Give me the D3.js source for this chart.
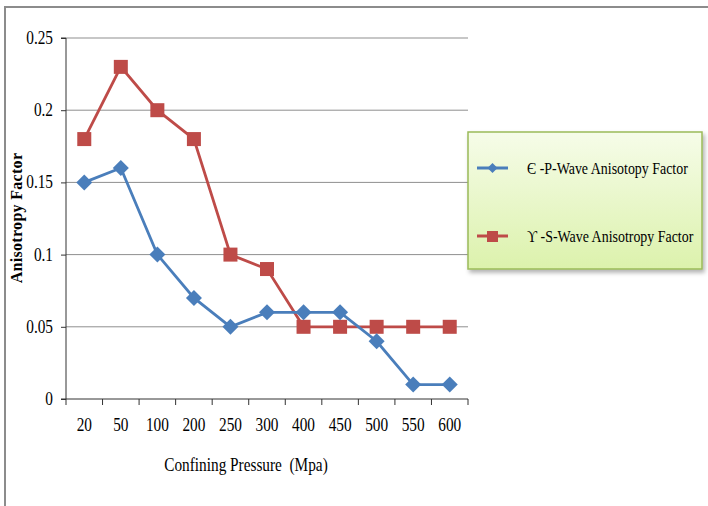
<!DOCTYPE html>
<html>
<head>
<meta charset="utf-8">
<script src="https://cdn.jsdelivr.net/npm/d3@7"></script>
<style>
  html, body { margin: 0; padding: 0; background: #fff; }
  svg { display: block; font-family: "Liberation Serif", "Times New Roman", serif; }
</style>
</head>
<body>
<svg id="chart" width="708" height="506"></svg>
<script>
// Confining pressure steps (MPa) and anisotropy factors per wave type
const pressures = ["20", "50", "100", "200", "250", "300", "400", "450", "500", "550", "600"];
const pWave = [0.15, 0.16, 0.10, 0.07, 0.05, 0.06, 0.06, 0.06, 0.04, 0.01, 0.01];
const sWave = [0.18, 0.23, 0.20, 0.18, 0.10, 0.09, 0.05, 0.05, 0.05, 0.05, 0.05];
const yTicks = [0, 0.05, 0.1, 0.15, 0.2, 0.25];
const seriesNames = ["\u0404 -P-Wave Anisotopy Factor", "\u03d2 -S-Wave Anisotropy Factor"];

const svg = d3.select("#chart");
const plotL = 66, plotR = 468, plotT = 38, plotB = 399;
const squeeze = 0.85; // narrow serif lettering

const x = d3.scaleBand().domain(pressures).range([plotL, plotR]);
const y = d3.scaleLinear().domain([0, 0.25]).range([plotB, plotT]);

// condensed text placed at (tx, ty)
function label(parent, tx, ty, str, size, anchor) {
  return parent.append("text")
    .attr("transform", `translate(${tx},${ty}) scale(${squeeze},1)`)
    .attr("text-anchor", anchor || "start")
    .attr("font-size", size).attr("fill", "#000")
    .attr("xml:space", "preserve")
    .text(str);
}

// outer frame (top and left edges)
svg.append("path").attr("d", "M5,506 V7 H708")
  .attr("fill", "none").attr("stroke", "#8c8c8c").attr("stroke-width", 2);

// horizontal gridlines
svg.append("g").selectAll("line").data(yTicks.filter(d => d > 0)).join("line")
  .attr("x1", plotL).attr("x2", plotR)
  .attr("y1", d => y(d)).attr("y2", d => y(d))
  .attr("stroke", "#8f8f8f").attr("stroke-width", 1);

// y axis line and ticks
const yAxis = svg.append("g").attr("transform", `translate(${plotL},0)`)
  .call(d3.axisLeft(y).tickValues(yTicks).tickFormat("").tickSize(5));
yAxis.select(".domain").attr("stroke", "#333").attr("d", `M-5,${plotT}H0V${plotB}H-5`);
yAxis.selectAll("line").attr("stroke", "#333");
const yLab = svg.append("g");
yTicks.forEach(t => label(yLab, 53, y(t) + 6, String(t), 18, "end"));

// x axis with ticks on category boundaries
const xAxis = svg.append("g").attr("transform", `translate(0,${plotB})`);
xAxis.append("line").attr("x1", plotL).attr("x2", plotR).attr("stroke", "#333");
const bounds = pressures.map(p => x(p)).concat([x.range()[1]]);
xAxis.selectAll("line.t").data(bounds).join("line").attr("class", "t")
  .attr("x1", d => d).attr("x2", d => d).attr("y1", 0).attr("y2", 6).attr("stroke", "#333");
pressures.forEach(p => label(xAxis, x(p) + x.bandwidth() / 2, 32, p, 18, "middle"));

// axis titles
label(svg, 246, 471, "Confining Pressure  (Mpa)", 18, "middle");
svg.append("text").attr("transform", "translate(22,218) rotate(-90)")
  .attr("text-anchor", "middle").attr("font-size", 16).attr("font-weight", "bold")
  .attr("letter-spacing", 0.3).text("Anisotropy Factor");

const cx = d => x(d) + x.bandwidth() / 2;
const line = d3.line().x(d => cx(d[0])).y(d => y(d[1]));
const blue = "#4a7ebb", red = "#be4b48";

// S-wave series: line with square markers
svg.append("path").datum(pressures.map((p, i) => [p, sWave[i]]))
  .attr("d", line).attr("fill", "none").attr("stroke", red).attr("stroke-width", 2.8);
svg.append("g").selectAll("rect").data(pressures.map((p, i) => [p, sWave[i]])).join("rect")
  .attr("x", d => cx(d[0]) - 7).attr("y", d => y(d[1]) - 7)
  .attr("width", 14).attr("height", 14).attr("fill", red);

// P-wave series: line with diamond markers
svg.append("path").datum(pressures.map((p, i) => [p, pWave[i]]))
  .attr("d", line).attr("fill", "none").attr("stroke", blue).attr("stroke-width", 2.8);
svg.append("g").selectAll("path").data(pressures.map((p, i) => [p, pWave[i]])).join("path")
  .attr("d", d => { const px = cx(d[0]), py = y(d[1]); return `M${px},${py-8}L${px+8},${py}L${px},${py+8}L${px-8},${py}Z`; })
  .attr("fill", blue);

// legend box
const defs = svg.append("defs");
const grad = defs.append("linearGradient").attr("id", "lg").attr("x1", 0).attr("y1", 0).attr("x2", 0).attr("y2", 1);
grad.append("stop").attr("offset", "0%").attr("stop-color", "#f6fce9");
grad.append("stop").attr("offset", "100%").attr("stop-color", "#dcf2ac");
const shadow = defs.append("filter").attr("id", "sh").attr("x", "-10%").attr("y", "-10%").attr("width", "130%").attr("height", "130%");
shadow.append("feDropShadow").attr("dx", 2).attr("dy", 3).attr("stdDeviation", 2).attr("flood-color", "#000").attr("flood-opacity", 0.3);

const lg = svg.append("g");
lg.append("rect").attr("x", 468).attr("y", 132).attr("width", 234).attr("height", 137)
  .attr("fill", "url(#lg)").attr("stroke", "#9bbb59").attr("stroke-width", 1.5).attr("filter", "url(#sh)");
const legendRows = [
  { name: seriesNames[0], color: blue, shape: "diamond", y: 168 },
  { name: seriesNames[1], color: red, shape: "square", y: 236 }
];
legendRows.forEach(r => {
  lg.append("line").attr("x1", 477).attr("x2", 508).attr("y1", r.y).attr("y2", r.y)
    .attr("stroke", r.color).attr("stroke-width", 3);
  if (r.shape === "diamond") {
    lg.append("path").attr("d", `M492.5,${r.y-5}L497.5,${r.y}L492.5,${r.y+5}L487.5,${r.y}Z`).attr("fill", r.color);
  } else {
    lg.append("rect").attr("x", 487).attr("y", r.y - 5).attr("width", 11).attr("height", 11).attr("fill", r.color);
  }
  label(lg, 527, r.y + 6, r.name, 16.4, "start");
});
</script>
</body>
</html>
